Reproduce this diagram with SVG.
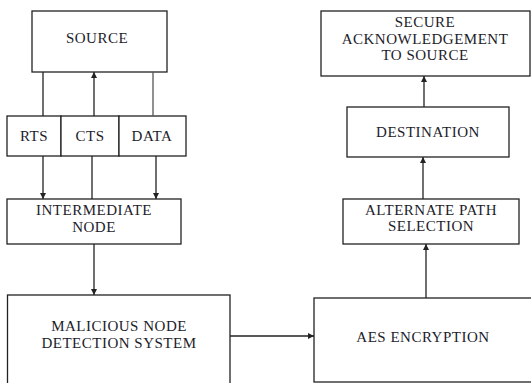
<svg xmlns="http://www.w3.org/2000/svg" width="531" height="383" viewBox="0 0 531 383">
<style>
.box{fill:#fff;stroke:#222;stroke-width:1.3}
.t{font-family:"Liberation Serif","Times New Roman",serif;font-size:15px;letter-spacing:0.5px;fill:#1c1c2a;text-anchor:middle}
.c{fill:none;stroke:#222;stroke-width:1.3}
</style>
<defs>
<marker id="ah" viewBox="0 0 10 10" refX="10" refY="5" markerWidth="6" markerHeight="6" orient="auto" markerUnits="userSpaceOnUse">
<path d="M0,0 L10,5 L0,10 z" fill="#222"/>
</marker>
</defs>
<rect width="531" height="383" fill="#fff"/>
<g id="source"><rect class="box" x="32" y="11" width="135" height="61"/><text class="t" x="97" y="43">SOURCE</text></g>
<g id="rts"><rect class="box" x="7" y="116" width="54" height="40"/><text class="t" x="34" y="141">RTS</text></g>
<g id="cts"><rect class="box" x="61" y="116" width="58" height="40"/><text class="t" x="90" y="141">CTS</text></g>
<g id="data"><rect class="box" x="119" y="116" width="67" height="40"/><text class="t" x="152" y="141">DATA</text></g>
<g id="intermediate"><rect class="box" x="7" y="199" width="174" height="45"/><text class="t" x="94" y="215">INTERMEDIATE</text><text class="t" x="94" y="232">NODE</text></g>
<g id="malicious"><rect class="box" x="7.5" y="295" width="222.5" height="100"/><text class="t" x="119" y="331">MALICIOUS NODE</text><text class="t" x="119" y="348">DETECTION SYSTEM</text></g>
<g id="aes"><rect class="box" x="314" y="298" width="230" height="84"/><text class="t" x="423" y="342">AES ENCRYPTION</text></g>
<g id="alternate"><rect class="box" x="343" y="199" width="176" height="45"/><text class="t" x="431" y="215">ALTERNATE PATH</text><text class="t" x="431" y="231">SELECTION</text></g>
<g id="destination"><rect class="box" x="347" y="107" width="162" height="50"/><text class="t" x="428" y="137">DESTINATION</text></g>
<g id="secure"><rect class="box" x="321" y="11" width="209" height="65"/><text class="t" x="425" y="27">SECURE</text><text class="t" x="425" y="44">ACKNOWLEDGEMENT</text><text class="t" x="425" y="60">TO SOURCE</text></g>
<g id="connectors">
<line class="c" x1="43" y1="72" x2="43" y2="116"/>
<line class="c" x1="94" y1="116" x2="94" y2="72" marker-end="url(#ah)"/>
<line class="c" x1="153" y1="72" x2="153" y2="116" style="stroke:#555"/>
<line class="c" x1="43" y1="156" x2="43" y2="199" marker-end="url(#ah)"/>
<line class="c" x1="92" y1="156" x2="92" y2="199"/>
<line class="c" x1="156" y1="156" x2="156" y2="199" marker-end="url(#ah)"/>
<line class="c" x1="94" y1="244" x2="94" y2="295" marker-end="url(#ah)"/>
<line class="c" x1="230" y1="336" x2="314" y2="336" marker-end="url(#ah)"/>
<line class="c" x1="426" y1="298" x2="426" y2="244" marker-end="url(#ah)"/>
<line class="c" x1="423" y1="199" x2="423" y2="157" marker-end="url(#ah)"/>
<line class="c" x1="424" y1="107" x2="424" y2="76" marker-end="url(#ah)"/>
</g>
</svg>
